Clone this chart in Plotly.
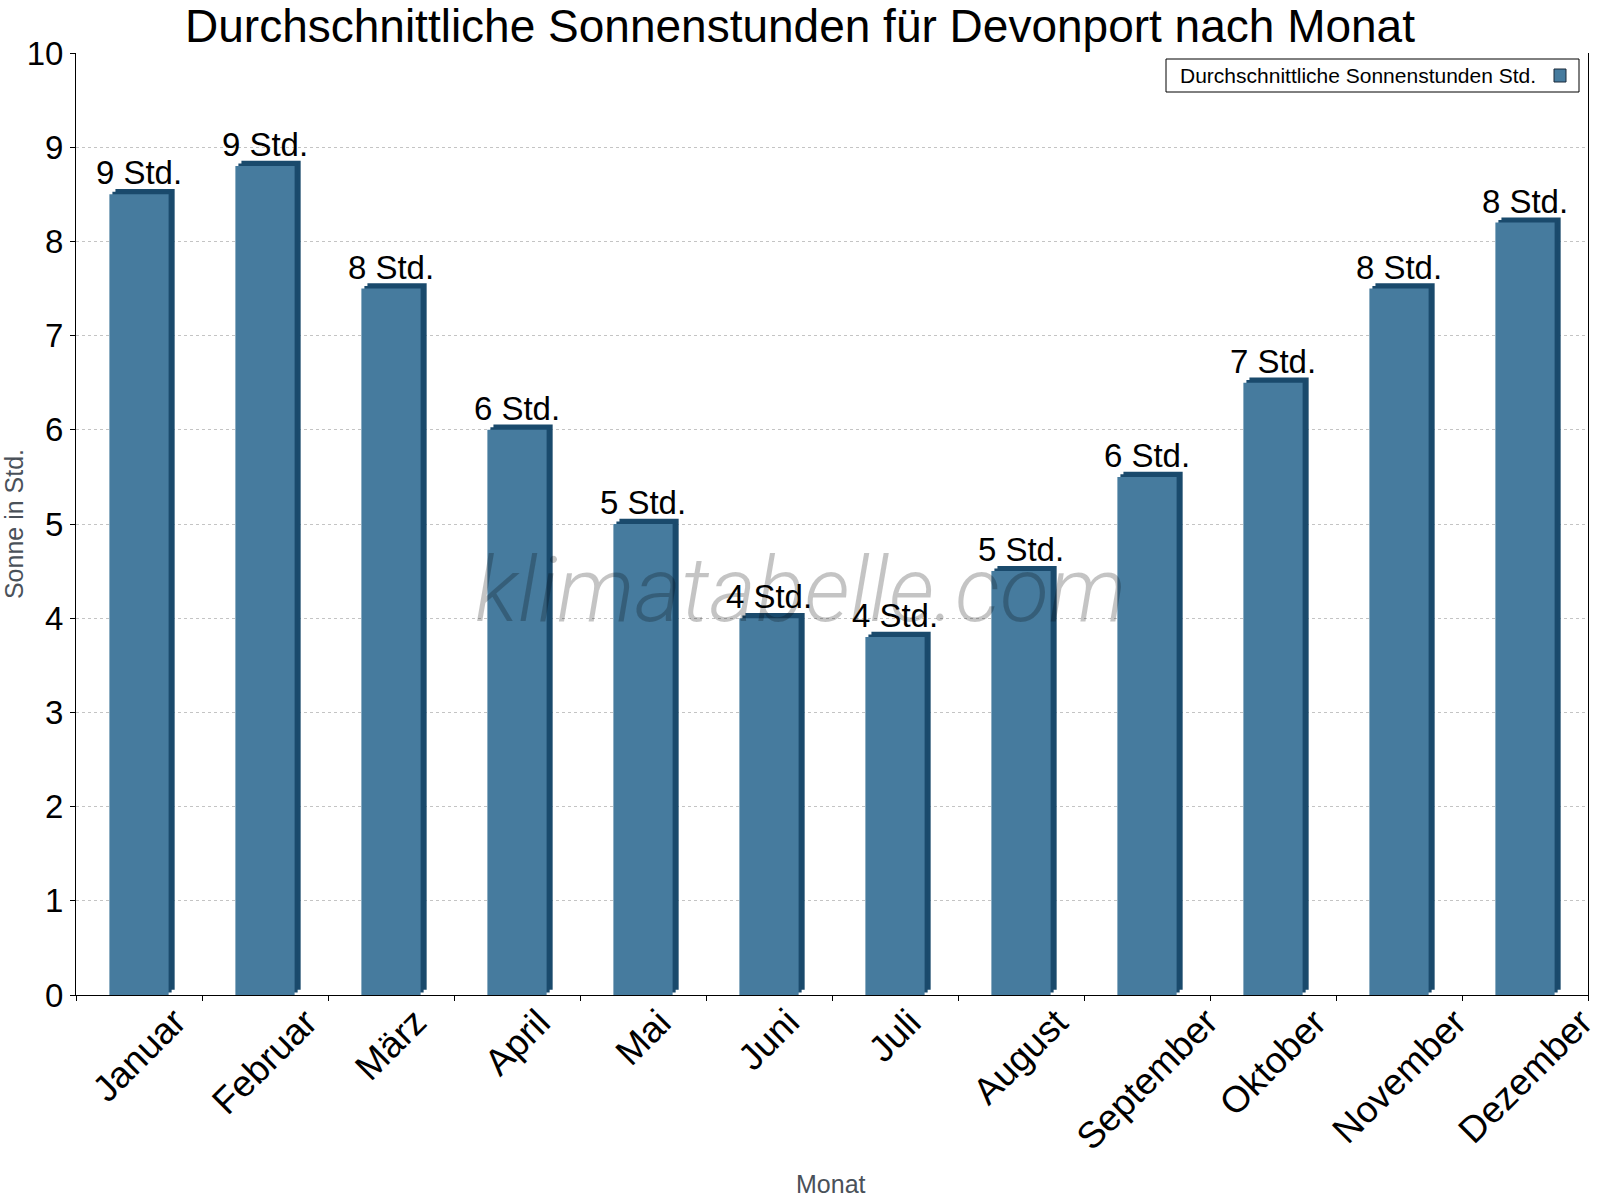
import plotly.graph_objects as go

months = ["Januar", "Februar", "März", "April", "Mai", "Juni", "Juli",
          "August", "September", "Oktober", "November", "Dezember"]
sun_hours = [8.5, 8.8, 7.5, 6.0, 5.0, 4.0, 3.8, 4.5, 5.5, 6.5, 7.5, 8.2]
value_labels = ["9 Std.", "9 Std.", "8 Std.", "6 Std.", "5 Std.", "4 Std.",
                "4 Std.", "5 Std.", "6 Std.", "7 Std.", "8 Std.", "8 Std."]
y_ticks = [0, 1, 2, 3, 4, 5, 6, 7, 8, 9, 10]

FRONT = "#467b9e"
DARK = "#1a4a6c"
FONT = "Liberation Sans, Arial, sans-serif"

BAR_W = 0.47
DEPTH_X = 0.048   # category units (~6 px)
DEPTH_Y = 0.055   # data units (~5 px)

fig = go.Figure()
# dark 3D side / top (two layers give a bevelled edge)
for f in (1.0, 0.5):
    fig.add_trace(go.Bar(
        x=months, y=sun_hours, base=DEPTH_Y * f, width=BAR_W,
        offset=-BAR_W / 2 + DEPTH_X * f,
        marker=dict(color=DARK, line=dict(width=0)), showlegend=False, hoverinfo="skip"))
# front face
fig.add_trace(go.Bar(
    x=months, y=sun_hours, width=BAR_W, offset=-BAR_W / 2,
    marker=dict(color=FRONT, line=dict(width=0)),
    text=value_labels, textposition="outside", cliponaxis=False, constraintext="none",
    textfont=dict(family=FONT, size=33, color="black"),
    name="Durchschnittliche Sonnenstunden Std.", showlegend=False))

L, R, T, B = 76, 12, 53, 205
W, H = 1600, 1200
pw, ph = W - L - R, H - T - B

def px(x):
    return (x - L) / pw

def py(y):
    return (H - B - y) / ph

# rotated month labels, centred under each category
month_annotations = [
    dict(text=m, x=m, xref="x", y=py(1000), yref="paper", xanchor="center", yanchor="top",
         textangle=-45, showarrow=False, borderpad=0,
         font=dict(family=FONT, size=37, color="black"))
    for m in months
]

fig.update_layout(
    width=W, height=H,
    margin=dict(l=L, r=R, t=T, b=B, autoexpand=False),
    paper_bgcolor="white", plot_bgcolor="white",
    barmode="overlay",
    font=dict(family=FONT, color="black"),
    title=dict(text="Durchschnittliche Sonnenstunden für Devonport nach Monat",
               font=dict(family=FONT, size=46, color="black"),
               x=0.5, xref="container", xanchor="center",
               y=1 - 26 / H, yref="container", yanchor="middle"),
    xaxis=dict(type="category", showline=True, linecolor="black", linewidth=1,
               ticks="outside", ticklen=5, tickcolor="black", tickson="boundaries",
               showticklabels=False, showgrid=False, range=[-0.5, 11.5]),
    yaxis=dict(range=[0, 10], tickvals=y_ticks, showline=True, mirror=True,
               linecolor="black", linewidth=1, ticks="outside", ticklen=5,
               tickcolor="black", tickfont=dict(family=FONT, size=33, color="black"),
               showgrid=True, gridcolor="#c4c4c4", griddash="dot", gridwidth=1,
               zeroline=False,
               title=dict(text="Sonne in Std.", font=dict(family=FONT, size=25, color="#4a5159"),
                          standoff=6)),
    shapes=[
        dict(type="rect", xref="paper", yref="paper",
             x0=px(1166), x1=px(1579), y0=py(92), y1=py(59),
             line=dict(color="black", width=1), fillcolor="white", layer="above"),
        dict(type="rect", xref="paper", yref="paper",
             x0=px(1554), x1=px(1566), y0=py(82), y1=py(69),
             line=dict(color="#1a2a3a", width=1), fillcolor=FRONT, layer="above"),
    ],
    annotations=month_annotations + [
        dict(text="Monat", xref="paper", yref="paper", x=px(831), y=py(1184),
             xanchor="center", yanchor="middle", showarrow=False,
             font=dict(family=FONT, size=25, color="#4a5159")),
        dict(text="klimatabelle.com", xref="paper", yref="paper",
             x=px(800), y=py(590), xanchor="center", yanchor="middle", showarrow=False,
             font=dict(family="Roboto", size=90, color="rgba(0,0,0,0.23)",
                       style="italic", weight=300)),
        dict(text="Durchschnittliche Sonnenstunden Std.", xref="paper", yref="paper",
             x=px(1178), y=py(75.5), xanchor="left", yanchor="middle", showarrow=False,
             font=dict(family=FONT, size=21, color="black")),
    ],
)

fig.write_html("out.html")
